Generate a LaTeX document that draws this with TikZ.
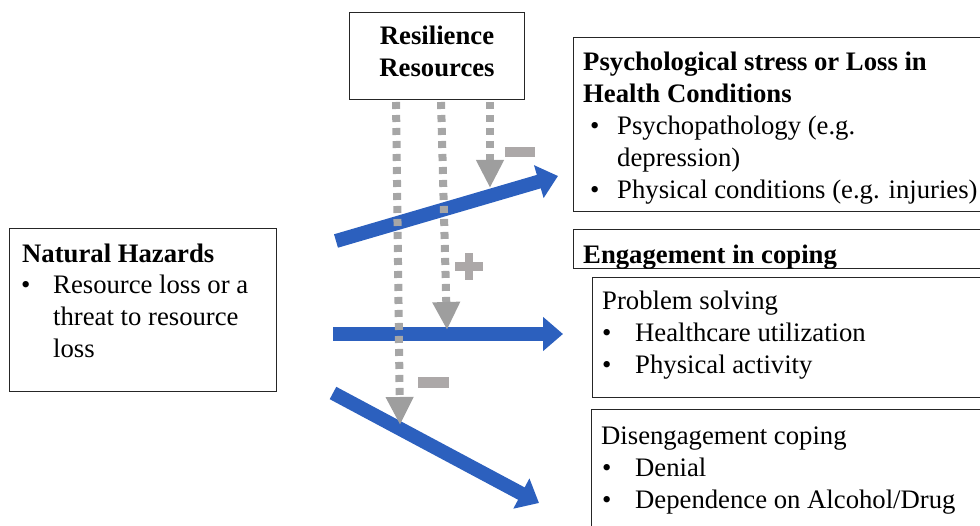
\documentclass[tikz,border=0pt]{standalone}
\usepackage{fontspec}
\setmainfont{Liberation Serif}
\usetikzlibrary{arrows.meta}
\definecolor{flowblue}{RGB}{44,96,190}
\definecolor{dotgray}{RGB}{166,166,166}
\definecolor{tipgray}{RGB}{158,158,158}
\definecolor{signgray}{RGB}{172,168,168}
\begin{document}
\begin{tikzpicture}[x=1pt,y=-1pt,
  box/.style={draw=black!85,line width=1pt,inner sep=0pt,rectangle},
  txt/.style={anchor=base west,inner sep=0pt,font=\fontsize{26.7}{32}\selectfont},
  ctxt/.style={txt,anchor=base},
  flow/.style={flowblue,line width=14pt,-{Triangle[width=33pt,length=20pt]}},
  link/.style={dotgray,line width=8pt,dash pattern=on 7pt off 6pt,dash phase=11pt,
    -{Triangle[width=26pt,length=28pt,color=tipgray]}},
  sign/.style={fill=signgray}]
\useasboundingbox (0,0) rectangle (980,526);
\clip (0,0) rectangle (980,526);

% boxes
\node[box,minimum width=175pt,minimum height=87pt] (rr) at (436.5,56.5) {};
\node[box,minimum width=427pt,minimum height=174pt] (psy) at (786.5,125) {};
\node[box,minimum width=427pt,minimum height=39pt] (eng) at (786.5,249.5) {};
\node[box,minimum width=408pt,minimum height=120pt] (prob) at (796,338) {};
\node[box,minimum width=409pt,minimum height=130pt] (dis) at (795.5,475) {};
\node[box,minimum width=267pt,minimum height=163pt] (nh) at (142.5,310.5) {};

% Resilience Resources
\node[ctxt] (rr1) at (437,45) {\textbf{Resilience}};
\node[ctxt] (rr2) at (437,77) {\textbf{Resources}};

% Psychological stress
\node[txt] (psy1) at (583,71) {\textbf{Psychological stress or Loss in}};
\node[txt] (psy2) at (583,103) {\textbf{Health Conditions}};
\node[txt] (psyb1) at (590,135) {•};
\node[txt] (psy3) at (617,135) {Psychopathology (e.g.};
\node[txt] (psy4) at (617,167) {depression)};
\node[txt] (psyb2) at (590,199) {•};
\node[txt] (psy5) at (617,199) {Physical conditions (e.g. injuries)};

% Engagement in coping
\node[txt] (eng1) at (583,264) {\textbf{Engagement in coping}};

% Problem solving
\node[txt] (prob1) at (602,310) {Problem solving};
\node[txt] (probb1) at (602,342) {•};
\node[txt] (prob2) at (635,342) {Healthcare utilization};
\node[txt] (probb2) at (602,374) {•};
\node[txt] (prob3) at (635,374) {Physical activity};

% Disengagement coping
\node[txt] (dis1) at (601,444) {Disengagement coping};
\node[txt] (disb1) at (602,476) {•};
\node[txt] (dis2) at (635,476) {Denial};
\node[txt] (disb2) at (602,508) {•};
\node[txt] (dis3) at (635,508) {Dependence on Alcohol/Drug};

% Natural Hazards
\node[txt] (nh1) at (22,263) {\textbf{Natural Hazards}};
\node[txt] (nhb1) at (21,294) {•};
\node[txt] (nh2) at (53,294) {Resource loss or a};
\node[txt] (nh3) at (53,326) {threat to resource};
\node[txt] (nh4) at (53,358) {loss};

% blue pathways
\coordinate (f1s) at (336,241);
\coordinate (f1e) at (558,176);
\coordinate (f2s) at (333,334);
\coordinate (f2e) at (563,334);
\coordinate (f3s) at (333,393);
\coordinate (f3e) at (539,503);
\draw[flow] (f1s) -- (f1e);
\draw[flow] (f2s) -- (f2e);
\draw[flow] (f3s) -- (f3e);

% moderating links from resilience resources
\coordinate (la) at (396,100);
\coordinate (lat) at (400,425);
\coordinate (lb) at (441,100);
\coordinate (lbt) at (447,330);
\coordinate (lc) at (490,100);
\coordinate (lct) at (490,188);
\draw[link] (la) -- (lat);
\draw[link] (lb) -- (lbt);
\draw[link] (lc) -- (lct);

% signs
\fill[sign] (505,147) rectangle (535,157);
\fill[sign] (455,262) rectangle (483,271);
\fill[sign] (465,253) rectangle (473,280);
\fill[sign] (418,377) rectangle (449,388);
\end{tikzpicture}
\end{document}
